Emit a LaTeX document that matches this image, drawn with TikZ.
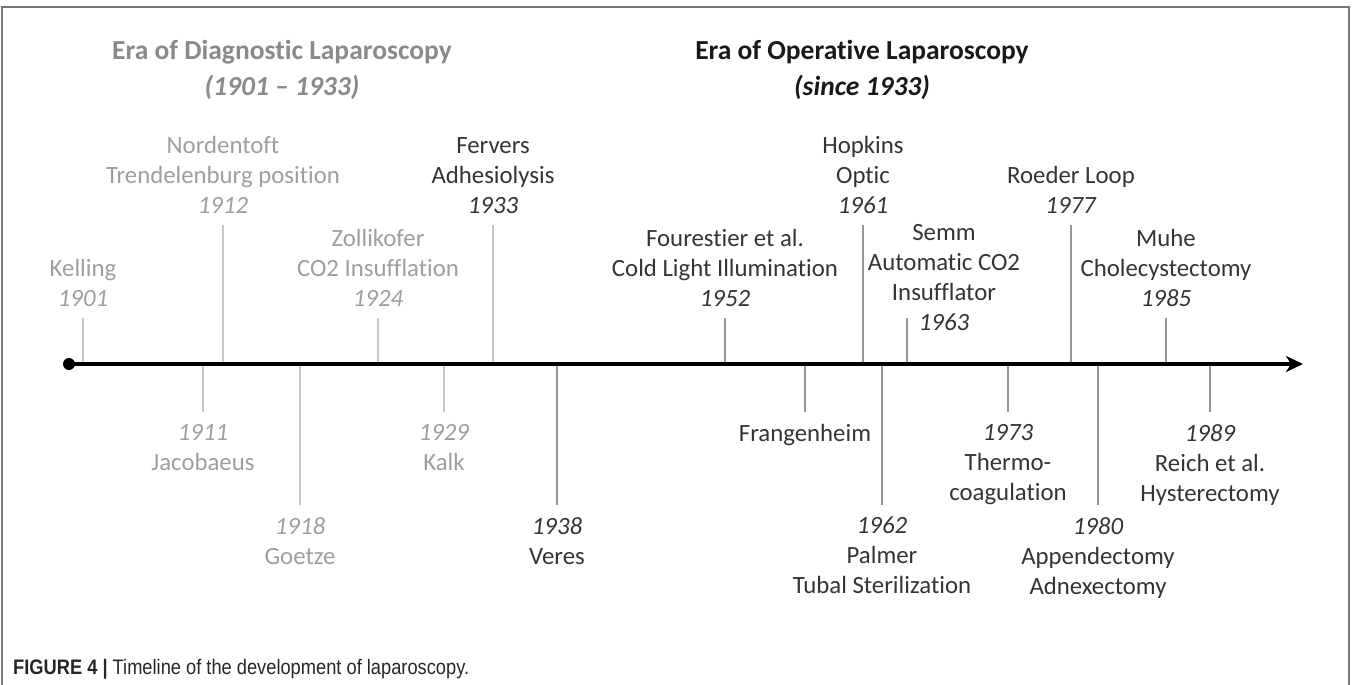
\documentclass[tikz,border=0pt]{standalone}
\usepackage{fontspec}
\setmainfont{Carlito}[Ligatures={NoCommon}]
\newfontfamily\capfont{Liberation Sans}[FakeStretch=0.87]
\usetikzlibrary{arrows.meta}
\definecolor{lt}{RGB}{158,158,158}
\definecolor{dk}{RGB}{52,52,52}
\definecolor{ttlgray}{RGB}{138,138,138}
\definecolor{tklt}{RGB}{200,200,200}
\definecolor{tkdk}{RGB}{150,150,150}
\definecolor{framecol}{RGB}{120,120,120}
\begin{document}
\begin{tikzpicture}[x=1pt,y=-1pt,
  evtxt/.style={align=center, inner sep=0pt, font=\fontsize{24.8}{30}\selectfont},
  up/.style={evtxt, anchor=south},
  dn/.style={evtxt, anchor=north},
  light/.style={text=lt},
  dark/.style={text=dk},
  tkl/.style={draw=tklt, line width=2pt},
  tkd/.style={draw=tkdk, line width=2pt},
  ttl/.style={align=center, inner sep=0pt, font=\fontsize{27.5}{36}\selectfont\bfseries},
  frame/.style={draw=framecol, line width=1.5pt},
  axis/.style={line width=3.5pt, -{Stealth[length=17pt,width=16pt,inset=5pt]}}
]
\useasboundingbox (0,0) rectangle (1352,685);
\draw[frame] (2,686) -- (2,7) -- (1349,7) -- (1349,686);

% titles
\node[ttl, text=ttlgray] (tdiag) at (282,70) {Era of Diagnostic Laparoscopy\\\textit{(1901 -- 1933)}};
\node[ttl, text=black!90] (toper) at (862,70) {Era of Operative Laparoscopy\\\textit{(since 1933)}};

% axis
\coordinate (start) at (69,364);
\coordinate (end) at (1303,364);

% ticks: axis points and tick ends
\foreach \n/\x/\y in {kel/83/318, nor/223/225, zol/378/318, fer/493/225, fou/725/318,
  hop/863/225, sem/907/318, roe/1071/225, muh/1166/318,
  jac/203/412, goe/300/505, kal/444/412, ver/557/505, fra/805/412,
  pal/882/505, the/1008/412, app/1098/505, rei/1210/412}{
  \coordinate (\n-a) at (\x,364);
  \coordinate (\n-t) at (\x,\y);
}

\draw[tkl] (kel-a) -- (kel-t);
\draw[tkl] (nor-a) -- (nor-t);
\draw[tkl] (zol-a) -- (zol-t);
\draw[tkl] (fer-a) -- (fer-t);
\draw[tkd] (fou-a) -- (fou-t);
\draw[tkd] (hop-a) -- (hop-t);
\draw[tkd] (sem-a) -- (sem-t);
\draw[tkd] (roe-a) -- (roe-t);
\draw[tkd] (muh-a) -- (muh-t);
\draw[tkl] (jac-a) -- (jac-t);
\draw[tkl] (goe-a) -- (goe-t);
\draw[tkl] (kal-a) -- (kal-t);
\draw[tkd] (ver-a) -- (ver-t);
\draw[tkd] (fra-a) -- (fra-t);
\draw[tkd] (pal-a) -- (pal-t);
\draw[tkd] (the-a) -- (the-t);
\draw[tkd] (app-a) -- (app-t);
\draw[tkd] (rei-a) -- (rei-t);

\draw[axis] (start) -- (end);
\fill (start) circle (6pt);

% labels above
\node[up, light] (kel) at (83,307) {Kelling\\\textit{1901}};
\node[up, light] (nor) at (223,214) {Nordentoft\\Trendelenburg position\\\textit{1912}};
\node[up, light] (zol) at (378,307) {Zollikofer\\CO2 Insufflation\\\textit{1924}};
\node[up, dark] (fer) at (493,214) {Fervers\\Adhesiolysis\\\textit{1933}};
\node[up, dark] (fou) at (725,307) {Fourestier et al.\\Cold Light Illumination\\\textit{1952}};
\node[up, dark] (hop) at (863,214) {Hopkins\\Optic\\\textit{1961}};
\node[up, dark] (sem) at (944,331) {Semm\\Automatic CO2\\Insufflator\\\textit{1963}};
\node[up, dark] (roe) at (1071,214) {Roeder Loop\\\textit{1977}};
\node[up, dark] (muh) at (1166,307) {Muhe\\Cholecystectomy\\\textit{1985}};

% labels below
\node[dn, light] (jac) at (203,424) {\textit{1911}\\Jacobaeus};
\node[dn, light] (goe) at (300,517) {\textit{1918}\\Goetze};
\node[dn, light] (kal) at (444,424) {\textit{1929}\\Kalk};
\node[dn, dark] (ver) at (557,517) {\textit{1938}\\Veres};
\node[dn, dark] (fra) at (805,424) {Frangenheim};
\node[dn, dark] (pal) at (882,517) {\textit{1962}\\Palmer\\Tubal Sterilization};
\node[dn, dark] (the) at (1008,424) {\textit{1973}\\Thermo-\\coagulation};
\node[dn, dark] (app) at (1098,517) {\textit{1980}\\Appendectomy\\Adnexectomy};
\node[dn, dark] (rei) at (1210,424) {\textit{1989}\\Reich et al.\\Hysterectomy};

% caption
\node[anchor=west, inner sep=0pt, text=black!85, font=\capfont\fontsize{21}{24}\selectfont] (cap) at (13,669)
  {\textbf{FIGURE 4} \textbf{|} Timeline of the development of laparoscopy.};
\end{tikzpicture}
\end{document}
